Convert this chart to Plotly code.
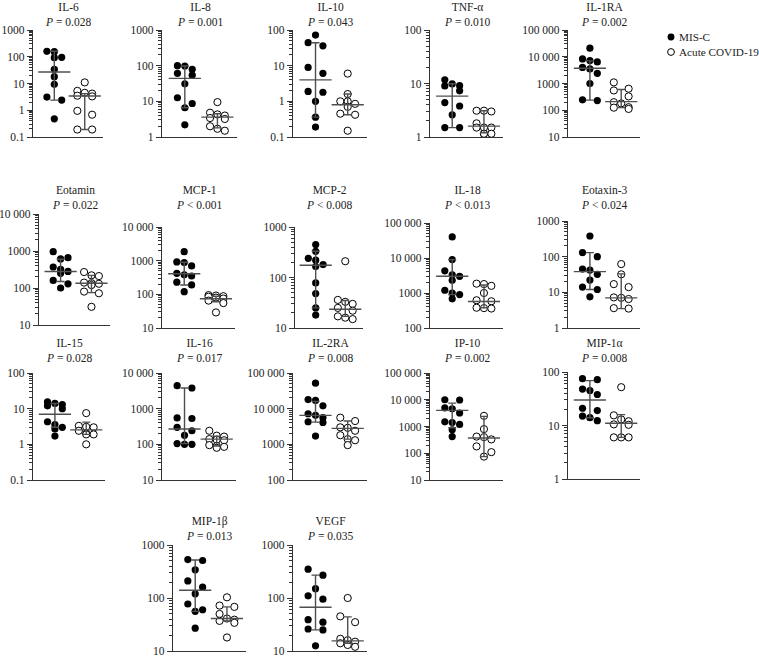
import math
import plotly.graph_objects as go

W, H = 759, 658

# ---------------- data ----------------
cytokines = ["IL-6", "IL-8", "IL-10", "TNF-α", "IL-1RA",
             "Eotamin", "MCP-1", "MCP-2", "IL-18", "Eotaxin-3",
             "IL-15", "IL-16", "IL-2RA", "IP-10", "MIP-1α",
             "MIP-1β", "VEGF"]
p_labels = ["= 0.028", "= 0.001", "= 0.043", "= 0.010", "= 0.002",
            "= 0.022", "< 0.001", "< 0.008", "< 0.013", "< 0.024",
            "= 0.028", "= 0.017", "= 0.008", "= 0.002", "= 0.008",
            "= 0.013", "= 0.035"]
# y-axis ranges as powers of ten (low, high)
axis_decades = [(-1, 3), (0, 3), (-1, 2), (0, 2), (1, 5),
                (1, 4), (1, 4), (1, 3), (2, 5), (0, 3),
                (-1, 2), (1, 4), (2, 5), (1, 5), (0, 2),
                (1, 3), (1, 3)]
groups = ["MIS-C", "Acute COVID-19"]

il6_misc = [160, 155, 95, 92, 34, 18, 9.3, 3.1, 2.4, 0.48]
il6_covid = [11, 5.3, 4.5, 4.2, 3.5, 3.3, 0.95, 0.68, 0.19, 0.19]
il6_stats = [(27, 2.4, 160), (3.4, 0.19, 4.2)]          # (median, Q1, Q3)

il8_misc = [100, 98, 79, 61, 54, 31, 12.6, 8.7, 6.6, 2.2]
il8_covid = [9.5, 4.8, 4.3, 4.0, 3.4, 3.2, 2.0, 1.7, 1.5]
il8_stats = [(44, 6.6, 98), (3.6, 1.8, 4.5)]

il10_misc = [72, 44, 36, 8.9, 6.1, 1.9, 1.8, 1.0, 0.36, 0.19]
il10_covid = [6.0, 1.6, 1.0, 1.0, 0.85, 0.7, 0.45, 0.42, 0.15]
il10_stats = [(4.0, 0.36, 44), (0.8, 0.42, 1.6)]

tnf_misc = [11.7, 9.8, 9.1, 9.0, 7.3, 4.4, 3.8, 2.6, 1.5, 1.5]
tnf_covid = [3.1, 3.1, 3.0, 1.8, 1.5, 1.5, 1.5, 1.15, 1.15, 1.15]
tnf_stats = [(5.8, 1.5, 9.9), (1.6, 1.2, 3.1)]

il1ra_misc = [21000, 8300, 7200, 6400, 4000, 3500, 2400, 1000, 245, 230]
il1ra_covid = [1100, 640, 550, 330, 200, 180, 130, 125, 112]
il1ra_stats = [(3700, 240, 7000), (210, 125, 600)]

eotamin_misc = [960, 660, 610, 370, 320, 280, 250, 160, 130, 100]
eotamin_covid = [270, 220, 210, 140, 135, 130, 120, 80, 72, 31]
eotamin_stats = [(280, 150, 600), (135, 75, 220)]

mcp1_misc = [1850, 920, 880, 700, 420, 380, 350, 230, 190, 120]
mcp1_covid = [95, 92, 88, 85, 80, 75, 65, 55, 29]
mcp1_stats = [(410, 190, 900), (74, 60, 88)]

mcp2_misc = [450, 330, 240, 220, 180, 165, 78, 48, 25, 18]
mcp2_covid = [210, 36, 33, 30, 25, 22, 17, 16, 15]
mcp2_stats = [(175, 25, 330), (23.5, 17, 35)]

il18_misc = [40000, 9000, 4300, 3300, 3000, 2300, 1200, 1000, 900, 680]
il18_covid = [1850, 1800, 1600, 1000, 620, 580, 380, 370, 360]
il18_stats = [(3000, 900, 9000), (570, 380, 1700)]

eotaxin3_misc = [380, 130, 100, 45, 42, 32, 22, 14, 12, 7.5]
eotaxin3_covid = [62, 32, 17, 14, 7.2, 7.0, 6.5, 3.6, 3.5]
eotaxin3_stats = [(38, 12, 130), (7, 3.5, 33)]

il15_misc = [15.5, 14, 13, 12, 10, 4.3, 3.6, 3.0, 2.7, 1.7]
il15_covid = [7.5, 3.3, 3.1, 3.0, 2.4, 2.0, 1.9, 1.9, 1.0]
il15_stats = [(7.0, 3.0, 14), (2.55, 1.9, 4.2)]

il16_misc = [4400, 3800, 550, 530, 300, 240, 180, 105, 100, 100]
il16_covid = [240, 175, 165, 140, 135, 130, 95, 90, 85, 80]
il16_stats = [(270, 105, 3800), (140, 90, 170)]

il2ra_misc = [52000, 18000, 17000, 12000, 7200, 6500, 5600, 4300, 4100, 1700]
il2ra_covid = [5600, 4500, 3000, 2900, 2400, 1800, 1400, 1300, 950]
il2ra_stats = [(6500, 4200, 16000), (2800, 1400, 4500)]

ip10_misc = [10000, 9800, 5000, 4600, 3200, 1500, 1400, 1200, 750, 420]
ip10_covid = [2500, 800, 420, 400, 330, 180, 110, 75]
ip10_stats = [(4000, 900, 7500), (370, 75, 2400)]

mip1a_misc = [75, 72, 48, 45, 38, 21, 19, 15, 14, 12.3]
mip1a_covid = [52, 15.5, 13, 12, 10.5, 10.3, 6, 6, 6]
mip1a_stats = [(30, 14, 69), (11, 6, 16)]

mip1b_misc = [530, 510, 340, 210, 160, 120, 77, 60, 56, 27]
mip1b_covid = [103, 72, 68, 50, 41, 39, 37, 34, 18]
mip1b_stats = [(140, 56, 520), (41, 37, 68)]

vegf_misc = [350, 270, 150, 110, 95, 39, 35, 26, 25, 12.5]
vegf_covid = [100, 45, 35, 17, 16, 15, 14, 13, 12]
vegf_stats = [(67, 25, 270), (15.5, 14, 44)]

misc_values = [il6_misc, il8_misc, il10_misc, tnf_misc, il1ra_misc,
               eotamin_misc, mcp1_misc, mcp2_misc, il18_misc, eotaxin3_misc,
               il15_misc, il16_misc, il2ra_misc, ip10_misc, mip1a_misc,
               mip1b_misc, vegf_misc]
covid_values = [il6_covid, il8_covid, il10_covid, tnf_covid, il1ra_covid,
                eotamin_covid, mcp1_covid, mcp2_covid, il18_covid, eotaxin3_covid,
                il15_covid, il16_covid, il2ra_covid, ip10_covid, mip1a_covid,
                mip1b_covid, vegf_covid]
stats_values = [il6_stats, il8_stats, il10_stats, tnf_stats, il1ra_stats,
                eotamin_stats, mcp1_stats, mcp2_stats, il18_stats, eotaxin3_stats,
                il15_stats, il16_stats, il2ra_stats, ip10_stats, mip1a_stats,
                mip1b_stats, vegf_stats]

# ---------------- layout (pixel boxes: x-left, x-right, y-top, y-bottom) ----------------
boxes = [
    (33, 103, 30, 137), (162, 237, 30, 137), (293, 367, 30, 137), (430, 503, 30, 137), (568, 640, 30, 137),
    (39, 110, 214, 325), (162, 235, 227, 328), (295, 363, 227, 328), (430, 503, 223, 328), (568, 640, 221, 328),
    (33, 105, 373, 480), (162, 236, 373, 480), (293, 367, 373, 480), (430, 503, 373, 480), (568, 640, 372, 479),
    (173, 246, 545, 651), (293, 367, 545, 651),
]
# vertical centre (px) of the two-line title block of each panel
title_centres = [14] * 5 + [197] * 5 + [350] * 5 + [528] * 2

FONT = "Liberation Serif"
TXT = "#222222"
AX = "#333333"
STAT = "#4f4f4f"
XR = (-0.7, 1.6)
MS = 7.2


def swarm_offsets(vals, lo, hi, hpx, step=7.4, thr=6.5):
    """Deterministic beeswarm: rows of at most three points spread symmetrically (px)."""
    ppd = hpx / (hi - lo)
    ys = [math.log10(v) * ppd for v in vals]
    order = sorted(range(len(vals)), key=lambda i: -ys[i])
    rows, cur, start = [], [], None
    for i in order:
        if cur and (start - ys[i] >= thr or len(cur) >= 3):
            rows.append(cur)
            cur = []
        if not cur:
            start = ys[i]
        cur.append(i)
    if cur:
        rows.append(cur)
    offs = [0.0] * len(vals)
    for r in rows:
        n = len(r)
        for j, i in enumerate(r):
            offs[i] = (j - (n - 1) / 2) * (2 * step if n == 2 else step)
    return offs


def fmt_tick(k):
    v = 10 ** k
    if k < 0:
        return "%g" % v
    if k >= 4:
        return "{:,}".format(int(v)).replace(",", " ")
    return str(int(v))


fig = go.Figure()
annotations = []
layout_axes = {}

for i, name in enumerate(cytokines):
    xl, xr, yt, yb = boxes[i]
    lo, hi = axis_decades[i]
    n = i + 1
    xa = "x" if n == 1 else "x%d" % n
    ya = "y" if n == 1 else "y%d" % n
    units_per_px = (XR[1] - XR[0]) / (xr - xl)

    for g, vals in enumerate([misc_values[i], covid_values[i]]):
        offs = swarm_offsets(vals, lo, hi, yb - yt)
        xs = [g + o * units_per_px for o in offs]
        fig.add_trace(go.Scatter(
            x=xs, y=vals, mode="markers", xaxis=xa, yaxis=ya, showlegend=False,
            name=groups[g],
            marker=dict(size=MS, color="black" if g == 0 else "white",
                        line=dict(color="black", width=1 if g == 1 else 0)),
            hoverinfo="y"))
    for g in range(2):
        med, q1, q3 = stats_values[i][g]
        fig.add_trace(go.Scatter(
            x=[g], y=[med], mode="markers", xaxis=xa, yaxis=ya, showlegend=False,
            marker=dict(symbol="line-ew", size=23, line=dict(color=STAT, width=1.4)),
            error_y=dict(type="data", symmetric=False, array=[q3 - med], arrayminus=[med - q1],
                         color=STAT, thickness=1.4, width=4),
            hoverinfo="skip"))

    tickvals = [10 ** k for k in range(lo, hi + 1)]
    ticktext = [fmt_tick(k) for k in range(lo, hi + 1)]
    layout_axes["xaxis" if n == 1 else "xaxis%d" % n] = dict(
        domain=[xl / W, xr / W], range=list(XR), anchor=ya, automargin=False,
        showline=True, linecolor=AX, linewidth=1.4, ticks="", showticklabels=False,
        showgrid=False, zeroline=False, fixedrange=True)
    layout_axes["yaxis" if n == 1 else "yaxis%d" % n] = dict(
        domain=[1 - yb / H, 1 - yt / H], type="log", range=[lo, hi], anchor=xa,
        automargin=False,
        showline=True, linecolor=AX, linewidth=1.4, showgrid=False, zeroline=False,
        tickmode="array", tickvals=tickvals, ticktext=ticktext,
        ticks="outside", ticklen=5, tickwidth=1.3, tickcolor=AX,
        tickfont=dict(family=FONT, size=11.5, color=TXT),
        minor=dict(ticks="outside", ticklen=2.5, tickwidth=1, tickcolor=AX,
                   dtick="D1", showgrid=False),
        fixedrange=True)

    cx = (xl + xr) / 2 / W
    annotations.append(dict(x=cx, y=1 - title_centres[i] / H, xref="paper", yref="paper",
                            text=name + "<br><i>P</i> " + p_labels[i],
                            showarrow=False, xanchor="center", yanchor="middle",
                            align="center",
                            font=dict(family=FONT, size=11.5, color=TXT)))

# legend (drawn manually)
shapes = []
leg_items = [(groups[0], 37, "black", 0), (groups[1], 52, "white", 1)]
for label, ly, fill, lw in leg_items:
    r = 3.4
    cxp = 671
    shapes.append(dict(type="circle", xref="paper", yref="paper",
                       x0=(cxp - r) / W, x1=(cxp + r) / W,
                       y0=1 - (ly + r) / H, y1=1 - (ly - r) / H,
                       fillcolor=fill, line=dict(color="black", width=lw if lw else 0.1)))
    annotations.append(dict(x=677 / W, y=1 - ly / H, xref="paper", yref="paper", text=label,
                            showarrow=False, xanchor="left", yanchor="middle",
                            font=dict(family=FONT, size=11.2, color=TXT)))

fig.update_layout(
    template="none",
    width=W, height=H, margin=dict(l=0, r=0, t=0, b=0, pad=0),
    paper_bgcolor="white", plot_bgcolor="white",
    font=dict(family=FONT, color=TXT),
    showlegend=False, annotations=annotations, shapes=shapes,
    **layout_axes)

fig.write_html("out.html",
               config={"displayModeBar": False},
               post_script="document.body.style.margin='0';document.body.style.overflow='hidden';")
